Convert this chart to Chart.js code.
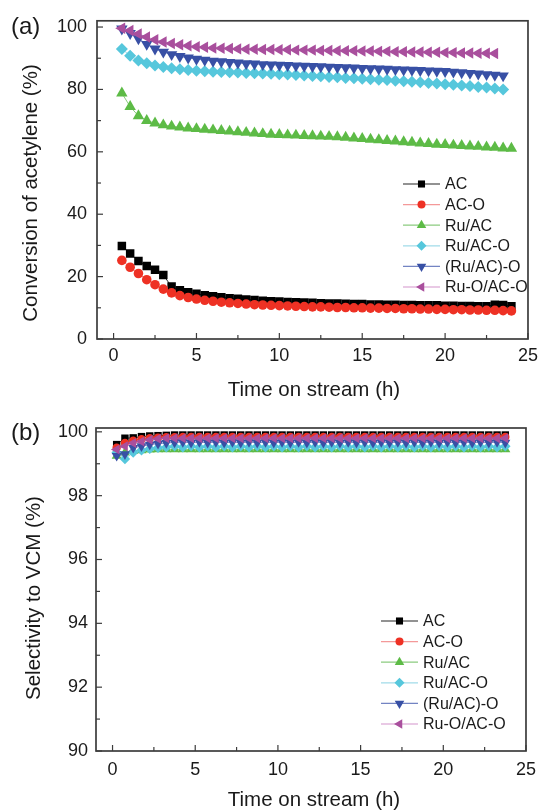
<!DOCTYPE html>
<html>
<head>
<meta charset="utf-8">
<title>Conversion and selectivity vs time on stream</title>
<script src="https://cdn.jsdelivr.net/npm/chart.js@4.4.0/dist/chart.umd.min.js"></script>
<style>
  html, body { margin: 0; padding: 0; background: #fff; }
  body { width: 544px; height: 810px; position: relative; overflow: hidden; }
  .panel { position: absolute; left: 0; width: 544px; }
  #panelA { top: 0; height: 400px; }
  #panelB { top: 400px; height: 410px; }
</style>
</head>
<body>
<div class="panel" id="panelA"><canvas id="chartA"></canvas></div>
<div class="panel" id="panelB"><canvas id="chartB"></canvas></div>
<script>
// Series names (same for both panels)
const seriesNames = ['AC', 'AC-O', 'Ru/AC', 'Ru/AC-O', '(Ru/AC)-O', 'Ru-O/AC-O'];

// Tick labels
const timeTicks = [0, 5, 10, 15, 20, 25];
const convTicks = [0, 20, 40, 60, 80, 100];
const selTicks = [90, 92, 94, 96, 98, 100];

// (a) Conversion of acetylene (%)
const timeA = [0.5, 1, 1.5, 2, 2.5, 3, 3.5, 4, 4.5, 5, 5.5, 6, 6.5, 7, 7.5, 8, 8.5, 9, 9.5, 10,
  10.5, 11, 11.5, 12, 12.5, 13, 13.5, 14, 14.5, 15, 15.5, 16, 16.5, 17, 17.5, 18, 18.5, 19, 19.5, 20,
  20.5, 21, 21.5, 22, 22.5, 23, 23.5, 24];
const convAC = [29.8, 27.4, 25.0, 23.4, 22.2, 20.5, 16.8, 15.6, 15.0, 14.5, 14.0, 13.7, 13.4, 13.1, 12.9, 12.7,
  12.5, 12.3, 12.1, 12.0, 11.9, 11.8, 11.7, 11.6, 11.5, 11.4, 11.4, 11.3, 11.2, 11.2, 11.1, 11.1,
  11.0, 11.0, 10.9, 10.9, 10.8, 10.8, 10.8, 10.7, 10.7, 10.6, 10.6, 10.5, 10.5, 11.0, 10.9, 10.5];
const convACO = [25.2, 23.0, 21.0, 19.0, 17.4, 16.0, 14.8, 13.9, 13.3, 12.8, 12.4, 12.1, 11.8, 11.6, 11.4, 11.2,
  11.0, 10.9, 10.8, 10.7, 10.6, 10.5, 10.4, 10.3, 10.3, 10.2, 10.1, 10.1, 10.0, 10.0, 9.9, 9.9,
  9.8, 9.8, 9.7, 9.7, 9.6, 9.6, 9.5, 9.5, 9.4, 9.4, 9.3, 9.3, 9.2, 9.2, 9.1, 9.0];
const convRuAC = [78.8, 74.5, 71.5, 70.0, 69.2, 68.6, 68.2, 67.9, 67.6, 67.4, 67.2, 67.0, 66.8, 66.6, 66.4, 66.2,
  66.0, 65.8, 65.6, 65.5, 65.4, 65.3, 65.2, 65.1, 65.0, 64.9, 64.8, 64.6, 64.4, 64.2, 64.0, 63.8,
  63.6, 63.4, 63.2, 63.0, 62.8, 62.6, 62.4, 62.3, 62.1, 62.0, 61.8, 61.7, 61.5, 61.4, 61.2, 61.1];
const convRuACO = [93.0, 90.8, 89.3, 88.4, 87.7, 87.2, 86.8, 86.5, 86.2, 86.0, 85.8, 85.7, 85.6, 85.5, 85.4, 85.3,
  85.2, 85.1, 85.0, 84.9, 84.8, 84.6, 84.5, 84.3, 84.2, 84.0, 83.9, 83.7, 83.6, 83.4, 83.3, 83.1,
  83.0, 82.8, 82.6, 82.5, 82.3, 82.1, 81.9, 81.7, 81.5, 81.3, 81.1, 80.8, 80.6, 80.3, 80.0];
const convRuACoxO = [99.4, 98.0, 96.3, 94.5, 93.0, 92.0, 91.2, 90.6, 90.1, 89.7, 89.4, 89.1, 88.9, 88.7, 88.5, 88.3,
  88.2, 88.0, 87.9, 87.8, 87.7, 87.6, 87.5, 87.4, 87.3, 87.2, 87.1, 87.0, 86.9, 86.8, 86.7, 86.6,
  86.5, 86.4, 86.3, 86.2, 86.1, 86.0, 85.9, 85.8, 85.6, 85.4, 85.2, 85.0, 84.8, 84.6, 84.4];
const convRuOACO = [99.6, 98.9, 97.8, 96.8, 95.9, 95.2, 94.7, 94.3, 94.0, 93.7, 93.5, 93.3, 93.2, 93.1, 93.0, 92.9,
  92.9, 92.8, 92.8, 92.7, 92.7, 92.6, 92.6, 92.6, 92.5, 92.5, 92.4, 92.4, 92.4, 92.3, 92.3, 92.2,
  92.2, 92.1, 92.1, 92.0, 92.0, 91.9, 91.9, 91.8, 91.8, 91.7, 91.7, 91.6, 91.6, 91.5];

// (b) Selectivity to VCM (%)
const timeB = [0.25, 0.75, 1.25, 1.75, 2.25, 2.75, 3.25, 3.75, 4.25, 4.75, 5.25, 5.75, 6.25, 6.75, 7.25, 7.75,
  8.25, 8.75, 9.25, 9.75, 10.25, 10.75, 11.25, 11.75, 12.25, 12.75, 13.25, 13.75, 14.25, 14.75, 15.25, 15.75,
  16.25, 16.75, 17.25, 17.75, 18.25, 18.75, 19.25, 19.75, 20.25, 20.75, 21.25, 21.75, 22.25, 22.75, 23.25, 23.75];
const selAC = [99.60, 99.80, 99.81, 99.85, 99.87, 99.88, 99.89, 99.90, 99.90, 99.90, 99.90, 99.90, 99.90, 99.90, 99.90, 99.90,
  99.90, 99.90, 99.90, 99.90, 99.90, 99.90, 99.90, 99.90, 99.90, 99.90, 99.90, 99.90, 99.90, 99.90, 99.90, 99.90,
  99.90, 99.90, 99.90, 99.90, 99.90, 99.90, 99.90, 99.90, 99.90, 99.90, 99.90, 99.90, 99.90, 99.90, 99.90, 99.90];
const selACO = [99.50, 99.65, 99.72, 99.77, 99.80, 99.82, 99.83, 99.83, 99.84, 99.84, 99.84, 99.84, 99.84, 99.84, 99.84, 99.84,
  99.84, 99.84, 99.84, 99.84, 99.84, 99.84, 99.84, 99.84, 99.84, 99.84, 99.84, 99.84, 99.84, 99.84, 99.84, 99.84,
  99.84, 99.84, 99.84, 99.84, 99.84, 99.84, 99.84, 99.84, 99.84, 99.84, 99.84, 99.84, 99.84, 99.84, 99.84, 99.84];
const selRuAC = [99.25, 99.35, 99.40, 99.42, 99.44, 99.45, 99.45, 99.45, 99.45, 99.45, 99.45, 99.45, 99.45, 99.45, 99.45, 99.45,
  99.45, 99.45, 99.45, 99.45, 99.45, 99.45, 99.45, 99.45, 99.45, 99.45, 99.45, 99.45, 99.45, 99.45, 99.45, 99.45,
  99.45, 99.45, 99.45, 99.45, 99.45, 99.45, 99.45, 99.45, 99.45, 99.45, 99.45, 99.45, 99.45, 99.45, 99.45, 99.45];
const selRuACO = [99.35, 99.15, 99.35, 99.42, 99.47, 99.50, 99.52, 99.55, 99.52, 99.55, 99.52, 99.55, 99.52, 99.55, 99.52, 99.55,
  99.52, 99.55, 99.52, 99.55, 99.52, 99.55, 99.52, 99.55, 99.52, 99.55, 99.52, 99.55, 99.52, 99.55, 99.52, 99.55,
  99.52, 99.55, 99.52, 99.55, 99.52, 99.55, 99.52, 99.55, 99.52, 99.55, 99.52, 99.55, 99.52, 99.55, 99.52, 99.55];
const selRuACoxO = [99.25, 99.30, 99.50, 99.55, 99.60, 99.63, 99.65, 99.67, 99.68, 99.66, 99.68, 99.66, 99.68, 99.66, 99.68, 99.66,
  99.68, 99.66, 99.68, 99.66, 99.68, 99.66, 99.68, 99.66, 99.68, 99.66, 99.68, 99.66, 99.68, 99.66, 99.68, 99.66,
  99.68, 99.66, 99.68, 99.66, 99.68, 99.66, 99.68, 99.66, 99.68, 99.66, 99.68, 99.66, 99.68, 99.66, 99.68, 99.66];
const selRuOACO = [99.45, 99.55, 99.65, 99.70, 99.75, 99.78, 99.80, 99.80, 99.80, 99.80, 99.80, 99.80, 99.80, 99.80, 99.80, 99.80,
  99.80, 99.80, 99.80, 99.80, 99.80, 99.80, 99.80, 99.80, 99.80, 99.80, 99.80, 99.80, 99.80, 99.80, 99.80, 99.80,
  99.80, 99.80, 99.80, 99.80, 99.80, 99.80, 99.80, 99.80, 99.80, 99.80, 99.80, 99.80, 99.80, 99.80, 99.80, 99.80];

// Marker / line styles per series
const styles = [
  { fill: '#000000', line: 'rgba(0,0,0,0.85)', shape: 'rect', rot: 0, r: 5 },
  { fill: '#ee3124', line: 'rgba(240,110,110,0.7)', shape: 'circle', rot: 0, r: 4 },
  { fill: '#5dbb46', line: 'rgba(110,190,95,0.8)', shape: 'triangle', rot: 0, r: 5.5 },
  { fill: '#56c7dc', line: 'rgba(150,215,230,0.9)', shape: 'rectRot', rot: 0, r: 5 },
  { fill: '#3850a5', line: 'rgba(90,110,185,0.85)', shape: 'triangle', rot: 180, r: 5.5 },
  { fill: '#a94f9d', line: 'rgba(200,120,190,0.8)', shape: 'triangle', rot: -90, r: 5.5 }
];

const fontFamily = "'Liberation Sans', Arial, Helvetica, sans-serif";
const axisColor = '#3c3c3c';
const textColor = '#1a1a1a';

function drawMarker(ctx, st, x, y) {
  ctx.fillStyle = st.fill;
  Chart.helpers.drawPoint(ctx, { pointStyle: st.shape, rotation: st.rot, radius: st.r, borderWidth: 0 }, x, y);
}

// Frame, inward ticks, axis titles, panel tag and legend
const framePlugin = {
  id: 'frame',
  afterDraw(chart, args, o) {
    const { ctx, chartArea: a, scales: { x, y } } = chart;
    ctx.save();
    ctx.strokeStyle = axisColor;
    ctx.lineWidth = 1.7;
    ctx.strokeRect(a.left, a.top, a.right - a.left, a.bottom - a.top);

    ctx.lineWidth = 1.2;
    const tick = (x1, y1, x2, y2) => { ctx.beginPath(); ctx.moveTo(x1, y1); ctx.lineTo(x2, y2); ctx.stroke(); };
    timeTicks.forEach((v, i) => {
      const px = x.getPixelForValue(v);
      tick(px, a.bottom, px, a.bottom - 6);
      if (i < timeTicks.length - 1) {
        const mx = x.getPixelForValue((v + timeTicks[i + 1]) / 2);
        tick(mx, a.bottom, mx, a.bottom - 4);
      }
    });
    o.yTicks.forEach((v, i) => {
      const py = y.getPixelForValue(v);
      tick(a.left, py, a.left + 6, py);
      if (i < o.yTicks.length - 1) {
        const my = y.getPixelForValue((v + o.yTicks[i + 1]) / 2);
        tick(a.left, my, a.left + 4, my);
      }
    });

    // titles
    ctx.fillStyle = textColor;
    ctx.textBaseline = 'middle';
    ctx.textAlign = 'center';
    ctx.font = '20.5px ' + fontFamily;
    ctx.fillText(o.xTitle, o.xTitlePos[0], o.xTitlePos[1]);
    ctx.save();
    ctx.translate(o.yTitlePos[0], o.yTitlePos[1]);
    ctx.rotate(-Math.PI / 2);
    ctx.fillText(o.yTitle, 0, 0);
    ctx.restore();

    ctx.textAlign = 'left';
    ctx.font = '24px ' + fontFamily;
    ctx.fillText(o.tag, o.tagPos[0], o.tagPos[1]);

    // legend: line + marker + name
    ctx.font = '16px ' + fontFamily;
    chart.data.datasets.forEach((ds, i) => {
      const ly = o.legendY + i * 20.6;
      const st = styles[i];
      ctx.strokeStyle = st.line;
      ctx.lineWidth = 1.2;
      tick(o.legendX, ly, o.legendX + 37, ly);
      drawMarker(ctx, st, o.legendX + 18.5, ly);
      ctx.fillStyle = textColor;
      ctx.fillText(ds.label, o.legendX + 42, ly + 1);
    });
    ctx.restore();
  }
};

function makeSets(time, list, scale) {
  return list.map((vals, i) => ({
    label: seriesNames[i],
    data: vals.map((v, k) => ({ x: time[k], y: v })),
    borderColor: styles[i].line,
    borderWidth: 1,
    pointStyle: styles[i].shape,
    pointRotation: styles[i].rot,
    pointRadius: styles[i].r * scale,
    pointBackgroundColor: styles[i].fill,
    pointBorderWidth: 0,
    showLine: true,
    fill: false,
    order: list.length - i
  }));
}

function makeChart(id, cfg) {
  const tickFont = { family: fontFamily, size: 18 };
  return new Chart(document.getElementById(id), {
    type: 'scatter',
    data: { datasets: makeSets(cfg.time, cfg.series, cfg.markerScale) },
    options: {
      responsive: true,
      maintainAspectRatio: false,
      animation: false,
      events: [],
      layout: { padding: { top: cfg.padTop, right: cfg.padRight, left: 0, bottom: 0 } },
      scales: {
        x: {
          type: 'linear', min: -1, max: 25,
          afterBuildTicks: s => { s.ticks = timeTicks.map(v => ({ value: v })); },
          afterFit: s => { s.height = cfg.xHeight; },
          grid: { display: false, drawTicks: false },
          border: { display: false },
          ticks: { font: tickFont, color: textColor, padding: cfg.xPad, autoSkip: false, maxRotation: 0 }
        },
        y: {
          type: 'linear', min: cfg.yMin, max: cfg.yMax,
          afterBuildTicks: s => { s.ticks = cfg.yTicks.map(v => ({ value: v })); },
          afterFit: s => { s.width = cfg.yWidth; },
          grid: { display: false, drawTicks: false },
          border: { display: false },
          ticks: { font: tickFont, color: textColor, padding: cfg.yPad, autoSkip: false }
        }
      },
      plugins: {
        legend: { display: false },
        tooltip: { enabled: false },
        frame: {
          yTicks: cfg.yTicks,
          xTitle: 'Time on stream (h)', xTitlePos: cfg.xTitlePos,
          yTitle: cfg.yTitle, yTitlePos: cfg.yTitlePos,
          tag: cfg.tag, tagPos: cfg.tagPos,
          legendX: cfg.legendX, legendY: cfg.legendY
        }
      }
    },
    plugins: [framePlugin]
  });
}

makeChart('chartA', {
  time: timeA,
  series: [convAC, convACO, convRuAC, convRuACO, convRuACoxO, convRuOACO],
  markerScale: 1.2,
  yMin: 0, yMax: 102, yTicks: convTicks,
  padTop: 18, padRight: 13, xHeight: 61, yWidth: 97, xPad: 6, yPad: 10,
  xTitlePos: [314, 390], yTitle: 'Conversion of acetylene (%)', yTitlePos: [31, 193],
  tag: '(a)', tagPos: [11, 27], legendX: 403, legendY: 184
});

makeChart('chartB', {
  time: timeB,
  series: [selAC, selACO, selRuAC, selRuACO, selRuACoxO, selRuOACO],
  markerScale: 1.05,
  yMin: 90, yMax: 100.12, yTicks: selTicks,
  padTop: 28, padRight: 14, xHeight: 59, yWidth: 96, xPad: 8, yPad: 8,
  xTitlePos: [314, 400], yTitle: 'Selectivity to VCM (%)', yTitlePos: [34, 198],
  tag: '(b)', tagPos: [11, 33], legendX: 381, legendY: 221
});
</script>
</body>
</html>
